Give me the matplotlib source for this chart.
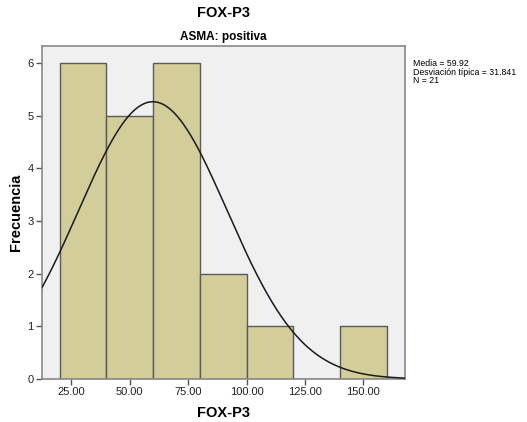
import numpy as np
import matplotlib
matplotlib.use("Agg")
import matplotlib.pyplot as plt

# histogram bins and counts for FOX-P3 (ASMA positive group)
bin_edges = [20, 40, 60, 80, 100, 120, 140, 160]
counts = [6, 5, 6, 2, 1, 0, 1]
media = 59.92
desv = 31.841
n = 21
xticks = [25, 50, 75, 100, 125, 150]
yticks = [0, 1, 2, 3, 4, 5, 6]

plt.rcParams['font.family'] = ['Liberation Sans', 'DejaVu Sans']

fig = plt.figure(figsize=(5.27, 4.22), dpi=100)
ax = fig.add_axes([0.0797, 0.1019, 0.6888, 0.7891])
ax.set_facecolor('#f0f0f0')

widths = np.diff(bin_edges)
ax.bar(bin_edges[:-1], counts, width=widths, align='edge',
       color='#d3ce99', edgecolor='#5a5a5a', linewidth=1.0, zorder=2)

# normal curve scaled to counts
xs = np.linspace(12.5, 167.8, 400)
bw = widths[0]
ys = n * bw / (desv * np.sqrt(2 * np.pi)) * np.exp(-0.5 * ((xs - media) / desv) ** 2)
ax.plot(xs, ys, color='#1a1a1a', linewidth=1.1, zorder=3)

ax.set_xlim(12.5, 167.8)
ax.set_ylim(0, 6.32)
ax.set_xticks(xticks)
ax.set_xticklabels(['%.2f' % t for t in xticks], fontsize=8)
ax.set_yticks(yticks)
ax.set_yticklabels([str(t) for t in yticks], fontsize=8)
ax.tick_params(length=4, color='#555555', width=1, labelcolor='#222222', pad=2)
for s in ax.spines.values():
    s.set_color('#888888')
    s.set_linewidth(1.2)

ax.set_xlabel('FOX-P3', fontsize=10.5, fontweight='bold', labelpad=6)
ax.set_ylabel('Frecuencia', fontsize=10.5, fontweight='bold', labelpad=3)
ax.set_title('ASMA: positiva', fontsize=8.5, fontweight='bold', pad=4)
fig.text(0.4235, 0.97, 'FOX-P3', ha='center', va='center', fontsize=10.5, fontweight='bold')

fig.text(0.784, 0.86, 'Media = %.2f\nDesviación típica = %.3f\nN = %d' % (media, desv, n),
         ha='left', va='top', fontsize=6.3, linespacing=0.95)

fig.savefig('out.png', dpi=100)
